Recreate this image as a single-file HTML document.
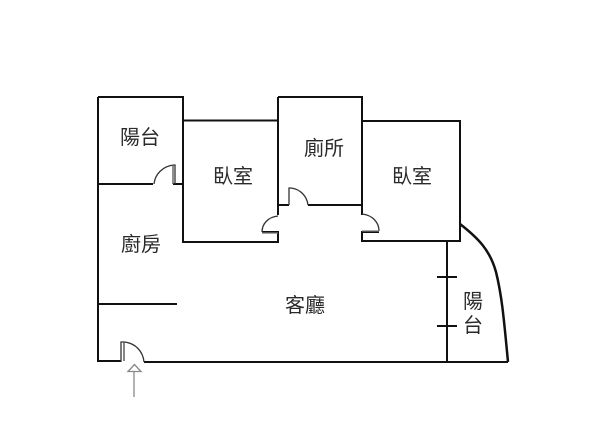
<!DOCTYPE html>
<html>
<head>
<meta charset="utf-8">
<style>
html,body{margin:0;padding:0;background:#fff;width:600px;height:448px;overflow:hidden}
svg{display:block}
text{font-family:"Liberation Sans","Noto Sans CJK TC",sans-serif;font-size:20px;fill:#2a2a2a;text-anchor:middle}
</style>
</head>
<body>
<svg width="600" height="448" viewBox="0 0 600 448" xmlns="http://www.w3.org/2000/svg">
<g fill="none" stroke="#111" stroke-width="2">
<path d="M98 97H183V184"/>
<path d="M98 97V361H121"/>
<path d="M98 184H153"/>
<path d="M173 184H183"/>
<path d="M183 120.500H278"/>
<path d="M183 184V242H278V232H262"/>
<path d="M278 97H362V205"/>
<path d="M278 97V215"/>
<path d="M278 205H289"/>
<path d="M308 205H362"/>
<path d="M362 121H460V241H362V232H379"/>
<path d="M362 205V215"/>
<path d="M98 304H177"/>
<path d="M144 362H508"/>
<path d="M447 241V362"/>
<path d="M437 277H457M437 326H457"/>
<path d="M460 224C478 238 490 250 496 272C502 296 504 320 508 362" stroke-width="2.500"/>
</g>
<g fill="none" stroke="#333" stroke-width="1.300">
<path d="M154 184C155 174 163 166 174 165H175V184"/>
<path d="M173 165V184" stroke="#555"/>
<path d="M278 216C268 217 262 224 262 232"/>
<path d="M262 233H278" stroke="#777"/>
<path d="M289 205V188H291C300 189 307 196 308 205"/>
<path d="M362 214C372 215 379 222 379 231"/>
<path d="M362 231H379" stroke="#777"/>
<path d="M121 362V342H124C135 343 143 351 144 362"/>
<path d="M124 342V361" stroke="#444"/>
</g>
<g fill="none" stroke="#888" stroke-width="1.300">
<path d="M134 397V372"/>
<path d="M128 371.500L134.500 364.500L141 371.500Z"/>
</g>
<text x="140" y="144">陽台</text>
<text x="233" y="183">臥室</text>
<text x="324" y="155">廁所</text>
<text x="412" y="183">臥室</text>
<text x="141" y="251">廚房</text>
<text x="305" y="312">客廳</text>
<text x="473" y="308">陽</text>
<text x="473" y="332">台</text>
</svg>
</body>
</html>
